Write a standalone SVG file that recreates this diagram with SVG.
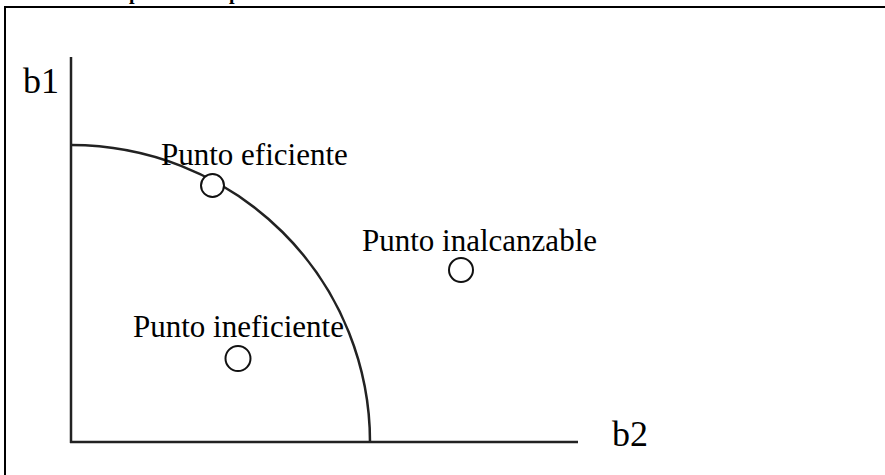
<svg xmlns="http://www.w3.org/2000/svg" width="885" height="475" viewBox="0 0 885 475">
<style>
.lbl{font-family:"Liberation Serif","Times New Roman",serif;font-size:31px;fill:#000}
.ax{font-family:"Liberation Serif","Times New Roman",serif;font-size:36px;fill:#000}
.ttl{font-family:"Liberation Serif","Times New Roman",serif;font-size:20px;font-weight:bold;fill:#000}
.pt{fill:#fff;stroke:#111;stroke-width:2}
.line{fill:none;stroke:#222;stroke-width:2.5}
</style>
<rect width="885" height="475" fill="#fff"/>
<g id="frame">
<line x1="4" y1="7" x2="885" y2="7" stroke="#000" stroke-width="2"/>
<line x1="5" y1="7" x2="5" y2="475" stroke="#000" stroke-width="2"/>
</g>
<g id="title">
<text class="ttl" x="129" y="-1">p</text>
<text class="ttl" x="229" y="-1">p</text>
</g>
<g id="connectors">
<line class="line" x1="71" y1="57" x2="71" y2="443"/>
<line class="line" x1="70" y1="442" x2="578" y2="442"/>
<path class="line" stroke-width="2" d="M71,145 A299,297 0 0 1 370,442"/>
</g>
<g id="axis-b1"><text class="ax" x="23" y="93">b1</text></g>
<g id="axis-b2"><text class="ax" x="612" y="446">b2</text></g>
<g id="punto-eficiente">
<circle class="pt" cx="212.5" cy="185.5" r="11.5"/>
<text class="lbl" x="161" y="165">Punto eficiente</text>
</g>
<g id="punto-inalcanzable">
<text class="lbl" x="362" y="251">Punto inalcanzable</text>
<circle class="pt" cx="461" cy="270" r="12"/>
</g>
<g id="punto-ineficiente">
<text class="lbl" x="133" y="337">Punto ineficiente</text>
<circle class="pt" cx="238" cy="358.5" r="12.5"/>
</g>
</svg>
